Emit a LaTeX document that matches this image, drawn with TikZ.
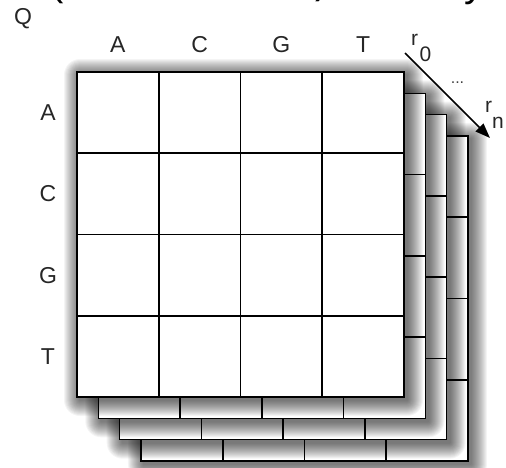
\documentclass[tikz,border=0pt]{standalone}
\usepackage{fontspec}
\setmainfont{Liberation Sans}
\usetikzlibrary{arrows.meta}
\tikzset{
  sheet/.style={fill=white, draw=black, line width=1.6pt},
  gridline/.style={draw=black, line width=1.6pt},
  lab/.style={font=\fontsize{23}{23}\selectfont, inner sep=0pt, text=black!85},
  idx/.style={font=\fontsize{21}{21}\selectfont, inner sep=0pt, anchor=base west, text=black!85},
  big/.style={font=\fontsize{40}{40}\selectfont, inner sep=0pt, anchor=base},
  layerarrow/.style={line width=1.6pt, -{Triangle[length=15pt,width=11pt]}},
}
\begin{document}
\begin{tikzpicture}[x=1pt,y=-1pt]
\useasboundingbox (0,0) rectangle (506,467);

% heading line above, mostly outside the page
\node[big] (h1) at (57,-4.5) {(};
\node[big] (h2) at (322,-6.5) {)};
\node[big] (h3) at (474,-4) {y};

% stacked score sheets, back to front, each with a soft shadow
\foreach \k in {3,2,1,0} {
  \pgfmathsetmacro{\d}{21.33*\k}
  \begin{scope}[shift={(\d,\d)}]
    \foreach \s in {1,...,16} {
      \fill[black, opacity=0.045, rounded corners=\s pt]
        ({80-\s},{75-\s}) rectangle ({407+\s},{400+\s});
    }
    \path[sheet] (77,72) rectangle (404,397);
    \foreach \i in {1,2,3} {
      \draw[gridline] ({77+81.75*\i},72) -- ({77+81.75*\i},397);
      \draw[gridline] (77,{72+81.25*\i}) -- (404,{72+81.25*\i});
    }
  \end{scope}
}

% labels
\node[lab] (q) at (23,19) {Q};
\foreach \b [count=\i from 0] in {A,C,G,T} {
  \node[lab] (col\b) at ({77+81.75*(\i+0.5)},45) {\b};
  \node[lab] (row\b) at (48,{72+81.25*(\i+0.5)}) {\b};
}

% layer index arrow
\coordinate (r0pt) at (405,53);
\coordinate (rnpt) at (490,138);
\draw[layerarrow] (r0pt) -- (rnpt);
\node[idx] (r0) at (411,45) {r\kern1.5pt\raisebox{-16pt}{0}};
\node[idx] (rn) at (485,112) {r\raisebox{-16pt}{n}};
\node[font=\fontsize{16}{16}\selectfont, inner sep=0pt, anchor=base, text=black!75] (dots) at (457.5,83) {...};
\end{tikzpicture}
\end{document}
